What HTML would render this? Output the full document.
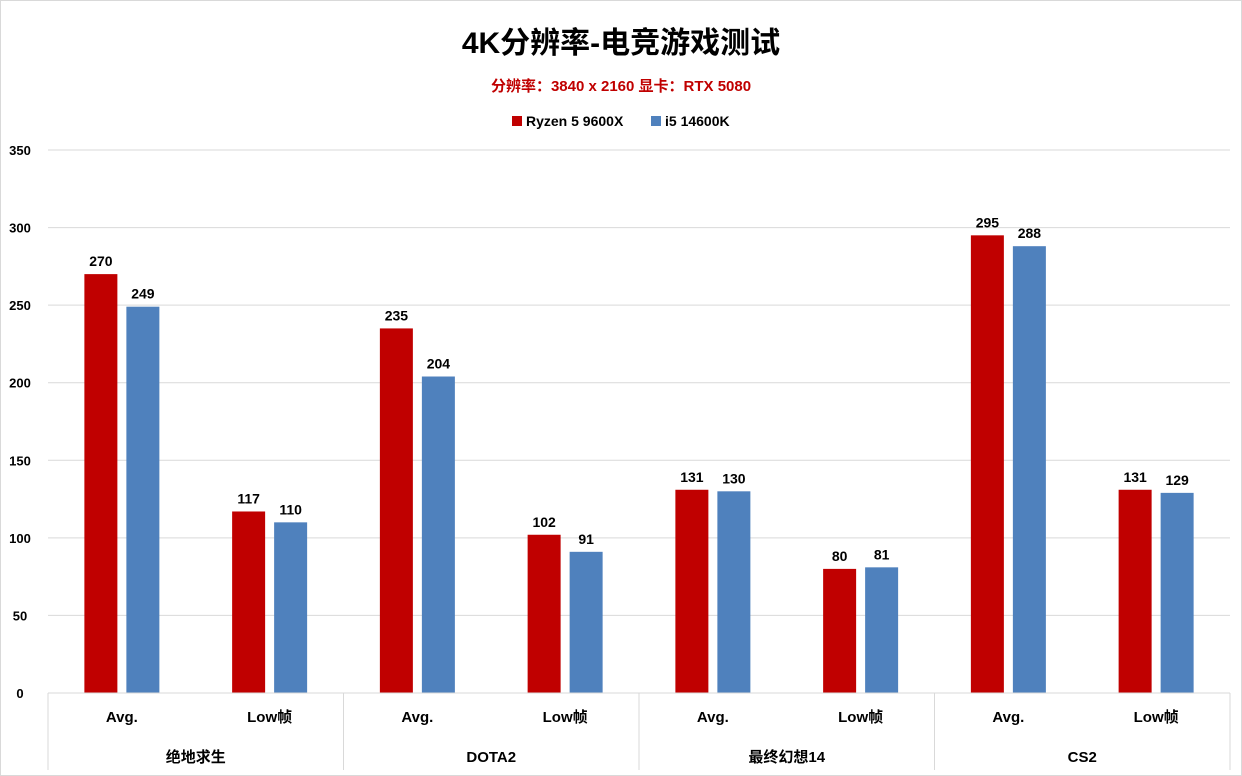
<!DOCTYPE html>
<html><head><meta charset="utf-8"><style>
body{margin:0;background:#fff}
svg{display:block;font-family:"Liberation Sans","Noto Sans CJK SC",sans-serif;font-weight:bold}
</style></head><body>
<svg id="c" width="1242" height="776">
<rect x="0.5" y="0.5" width="1241" height="775" fill="#fff" stroke="#d9d9d9"/>
<text x="621" y="53" text-anchor="middle" font-size="30" fill="#000">4K分辨率-电竞游戏测试</text>
<text x="621" y="91" text-anchor="middle" font-size="15" fill="#c00000">分辨率：3840 x 2160 显卡：RTX 5080</text>
<g>
<rect x="512" y="116" width="10" height="10" fill="#c00000"/>
<text x="526" y="126" font-size="14">Ryzen 5 9600X</text>
<rect x="651" y="116" width="10" height="10" fill="#4f81bd"/>
<text x="665" y="126" font-size="14">i5 14600K</text>
</g>
<g id="grid"></g><g id="bars"></g><g id="axis"></g>
</svg>
<script>
const groups=["绝地求生","DOTA2","最终幻想14","CS2"];
const subCats=["Avg.","Low帧","Avg.","Low帧","Avg.","Low帧","Avg.","Low帧"];
const ryzen=[270,117,235,102,131,80,295,131];
const i5=[249,110,204,91,130,81,288,129];
const yTicks=[0,50,100,150,200,250,300,350];
const NS="http://www.w3.org/2000/svg";
const x0=48,x1=1230,y0=693,y1=150,yMax=350;
const y=v=>y0-(v/yMax)*(y0-y1);
const catW=(x1-x0)/subCats.length;
const xc=i=>x0+catW*(i+0.5);
function mk(p,tag,a,txt){const e=document.createElementNS(NS,tag);for(const k in a)e.setAttribute(k,a[k]);if(txt!=null)e.textContent=txt;p.appendChild(e);return e;}
const grid=document.getElementById('grid'),bars=document.getElementById('bars'),axis=document.getElementById('axis');
yTicks.forEach(t=>{
 if(t>0){const l=mk(grid,'line',{x1:x0,x2:x1,y1:y(t),y2:y(t),stroke:'#d9d9d9'});
 
 }
 const tx=mk(grid,'text',{x:20,y:y(t)+5,'text-anchor':'middle','font-size':13},t);
 
 
});
const bw=33,gap=9;
subCats.forEach((c,i)=>{
 [[ryzen,'#c00000','ryzen',-1],[i5,'#4f81bd','i5',1]].forEach(([arr,col,nm,s])=>{
  const v=arr[i];
  const bx=s<0?xc(i)-gap/2-bw:xc(i)+gap/2;
  const r=mk(bars,'rect',{x:bx,y:y(v),width:bw,height:y0-y(v),fill:col});
  
  
  const t=mk(bars,'text',{x:bx+bw/2,y:y(v)-8,'text-anchor':'middle','font-size':14},v);
  
  
 });
 const lt=mk(axis,'text',{x:xc(i),y:722,'text-anchor':'middle','font-size':15},c);
 
 
});
const al=mk(axis,'line',{x1:x0,x2:x1,y1:y0,y2:y0,stroke:'#d9d9d9'});


const gw=(x1-x0)/groups.length;
for(let g=0;g<=groups.length;g++){
 const l=mk(axis,'line',{x1:x0+gw*g,x2:x0+gw*g,y1:y0,y2:770,stroke:'#d9d9d9'});
 
 
}
groups.forEach((g,i)=>{
 const t=mk(axis,'text',{x:x0+gw*(i+0.5),y:762,'text-anchor':'middle','font-size':15},g);
 
 
});
</script>
</body></html>
